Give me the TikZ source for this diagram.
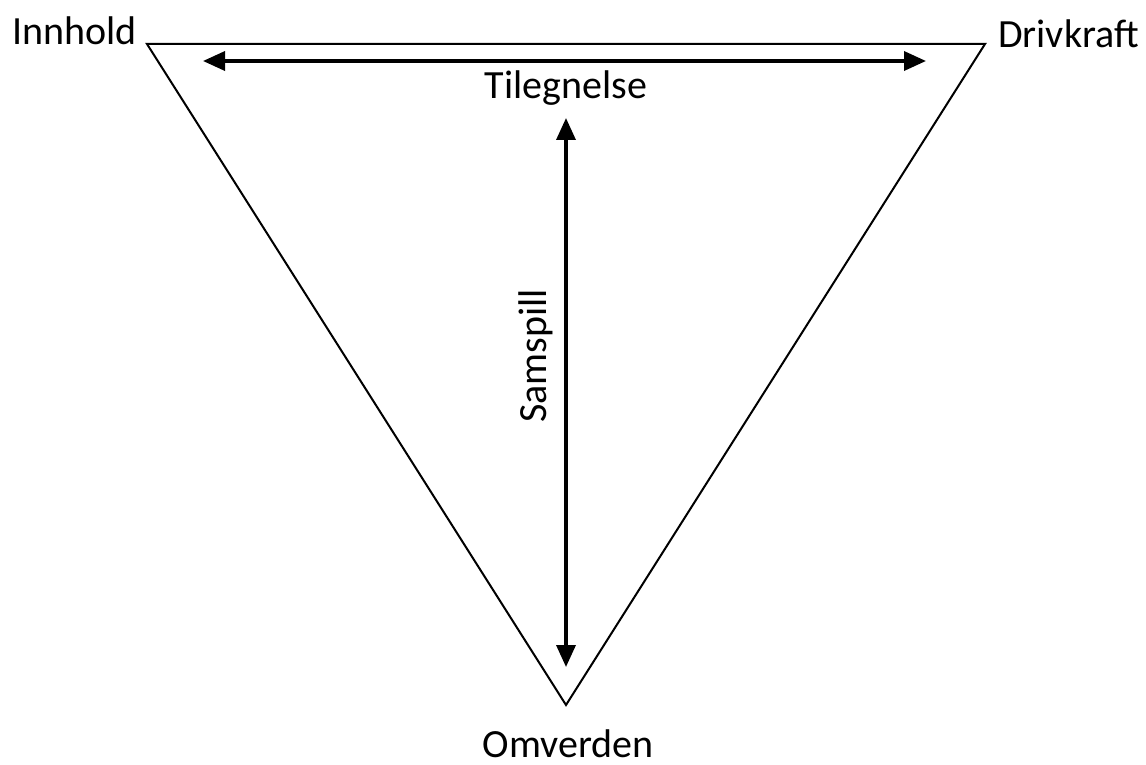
\documentclass[tikz,border=0pt]{standalone}
\usepackage{fontspec}
\setmainfont{Carlito}
\usetikzlibrary{arrows.meta}
\tikzset{
  tri/.style={draw=black, line width=2pt, line join=miter},
  dbl/.style={line width=3.5pt, {Triangle[length=22pt,width=19pt]}-{Triangle[length=22pt,width=19pt]}},
  lbl/.style={inner sep=0pt, font=\fontsize{40}{48}\selectfont}
}
\begin{document}
\begin{tikzpicture}[x=1pt,y=-1pt]
\useasboundingbox (0,0) rectangle (1146,765);
\coordinate (TL) at (147,44);
\coordinate (TR) at (985,44);
\coordinate (B) at (566,705);
\draw[tri] (TL) -- (TR) -- (B) -- cycle;
\coordinate (hL) at (203,61);
\coordinate (hR) at (926,61);
\coordinate (vT) at (566,118);
\coordinate (vB) at (566,667);
\draw[dbl] (hL) -- (hR);
\draw[dbl] (vT) -- (vB);
\node[lbl, anchor=base west] (inn) at (12,45) {Innhold};
\node[lbl, anchor=base west] (dri) at (998,48) {Drivkraft};
\node[lbl, anchor=base] (til) at (566,99) {Tilegnelse};
\node[lbl, anchor=base] (omv) at (568,757) {Omverden};
\node[lbl, anchor=base, rotate=90] (sam) at (546,356) {Samspill};
\end{tikzpicture}
\end{document}
